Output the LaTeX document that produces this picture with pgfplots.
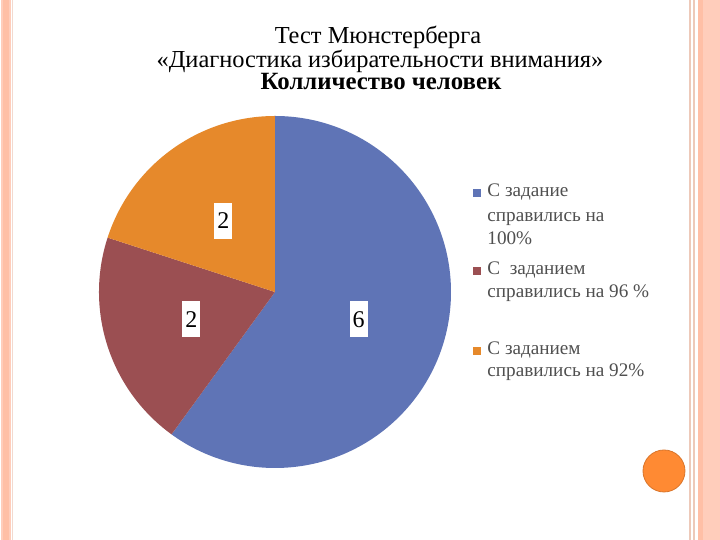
\documentclass[border=0pt]{standalone}
\usepackage{fontspec}
\setmainfont{Liberation Serif}
\usepackage{pgfplots}
\usepackage{pgfplotstable}
\pgfplotsset{compat=1.18}

\definecolor{sliceblue}{HTML}{5F74B6}
\definecolor{slicered}{HTML}{9B4F52}
\definecolor{sliceorange}{HTML}{E6892B}
\definecolor{legendgray}{HTML}{505050}
\definecolor{stripdark}{HTML}{FFBFA6}
\definecolor{striplight}{HTML}{FFCDBB}
\definecolor{stripline}{HTML}{EDC9B9}
\definecolor{dotorange}{HTML}{FF8A33}

% slices, clockwise from 12 o'clock
\pgfplotstableread[col sep=comma]{
value,color
6,sliceblue
2,slicered
2,sliceorange
}\piedata

\begin{document}
\begin{tikzpicture}
\begin{axis}[
  scale only axis, width=360pt, height=270pt,
  xmin=0, xmax=720, ymin=0, ymax=540,
  hide axis, clip=false,
]
  % slide background and border strips
  \fill[white] (axis cs:0,0) rectangle (axis cs:720,540);
  \fill[striplight] (axis cs:1,0) rectangle (axis cs:11,540);
  \fill[stripdark] (axis cs:3,0) rectangle (axis cs:9,540);
  \fill[stripline!70] (axis cs:12,0) rectangle (axis cs:13,540);
  \fill[stripline] (axis cs:689,0) rectangle (axis cs:691,540);
  \fill[stripline] (axis cs:693,0) rectangle (axis cs:695,540);
  \fill[stripdark] (axis cs:698,0) rectangle (axis cs:703,540);
  \fill[striplight] (axis cs:703,0) rectangle (axis cs:720,540);
  \filldraw[fill=dotorange, draw=dotorange!85!black, line width=0.4pt]
    (axis cs:664,69) circle[radius=10.5pt];

  % titles
  \begin{scope}[every node/.style={anchor=base, inner sep=0pt}]
    \node[font=\fontsize{12.2}{14}\selectfont] at (axis cs:378,496) {Тест Мюнстерберга};
    \node[font=\fontsize{12.2}{14}\selectfont] at (axis cs:380,472) {«Диагностика избирательности внимания»};
    \node[font=\fontsize{12.4}{14}\selectfont\bfseries] at (axis cs:381,450) {Колличество человек};
  \end{scope}

  % pie
  \pgfplotstablegetrowsof{\piedata}
  \pgfmathtruncatemacro\nrows{\pgfplotsretval-1}
  \def\total{0}
  \pgfplotsforeachungrouped \i in {0,...,\nrows} {%
    \pgfplotstablegetelem{\i}{value}\of\piedata
    \pgfmathsetmacro\total{\total+\pgfplotsretval}%
  }
  \def\cum{0}
  \pgfplotsforeachungrouped \i in {0,...,\nrows} {%
    \pgfplotstablegetelem{\i}{value}\of\piedata \let\v\pgfplotsretval
    \pgfplotstablegetelem{\i}{color}\of\piedata \let\c\pgfplotsretval
    \pgfmathsetmacro\a{90-360*\cum/\total}%
    \pgfmathsetmacro\b{90-360*(\cum+\v)/\total}%
    \edef\temp{\noexpand\fill[\c] (axis cs:275,248) -- ++(\a:88pt)
      arc[start angle=\a, end angle=\b, radius=88pt] -- cycle;}%
    \temp
    \pgfmathsetmacro\cum{\cum+\v}%
  }
  \def\cum{0}
  \pgfplotsforeachungrouped \i in {0,...,\nrows} {%
    \pgfplotstablegetelem{\i}{value}\of\piedata \let\v\pgfplotsretval
    \pgfmathsetmacro\m{90-360*(\cum+\v/2)/\total}%
    \edef\temp{\noexpand\path (axis cs:275,248) ++(\m:44pt) node[fill=white,
      inner sep=0pt, minimum width=9pt, minimum height=18pt,
      font=\noexpand\fontsize{12}{12}\noexpand\selectfont] {\v};}%
    \temp
    \pgfmathsetmacro\cum{\cum+\v}%
  }

  % legend
  \begin{scope}[every node/.style={anchor=base west, inner sep=0pt,
      text=legendgray, font=\fontsize{9.6}{12}\selectfont}]
    \fill[sliceblue] (axis cs:473,343) rectangle (axis cs:481,351);
    \node at (axis cs:487,343) {С задание};
    \node at (axis cs:487,318) {справились на};
    \node at (axis cs:487,295) {100\%};
    \fill[slicered] (axis cs:473,265) rectangle (axis cs:481,273);
    \node at (axis cs:487,265) {С\ \ заданием};
    \node at (axis cs:487,242) {справились на 96 \%};
    \fill[sliceorange] (axis cs:473,185) rectangle (axis cs:481,193);
    \node at (axis cs:487,185) {С заданием};
    \node at (axis cs:487,163) {справились на 92\%};
  \end{scope}
\end{axis}
\end{tikzpicture}
\end{document}
